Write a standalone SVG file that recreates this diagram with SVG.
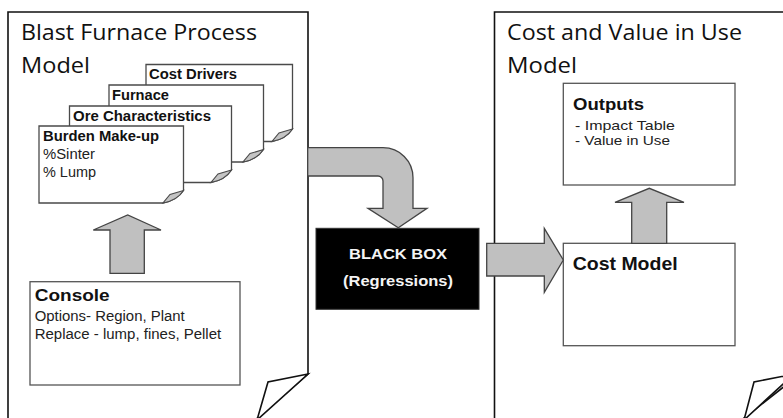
<svg xmlns="http://www.w3.org/2000/svg" width="783" height="418" viewBox="0 0 783 418">
  <style>
    .sheet { fill: #ffffff; stroke: #111111; stroke-width: 1.6; stroke-linejoin: miter; }
    .flap { fill: #ffffff; stroke: #111111; stroke-width: 1.6; stroke-linejoin: miter; }
    .card { fill: #ffffff; stroke: #4a4a4a; stroke-width: 1.3; }
    .curl { fill: #c4c4c4; stroke: #4a4a4a; stroke-width: 1.1; }
    .box { fill: #ffffff; stroke: #555555; stroke-width: 1.3; }
    .arrow { fill: #c0c0c0; stroke: #444444; stroke-width: 1.3; stroke-linejoin: miter; }
    .title { font-family: "Open Sans", "Liberation Sans", sans-serif; font-size: 21px; fill: #111111; }
    .bold { font-family: "Liberation Sans", Arial, sans-serif; font-weight: bold; fill: #111111; }
    .reg { font-family: "Liberation Sans", Arial, sans-serif; fill: #222222; }
    .white { font-family: "Liberation Sans", Arial, sans-serif; font-weight: bold; fill: #f4f4f4; font-size: 15px; }
  </style>

  <!-- left document: process model -->
  <g id="process-model">
    <path class="sheet" d="M8,424 V12 H308 V374 L253,422"/>
    <path class="flap" d="M308,374 L268,382 L257,420 Z"/>
    <text class="title" x="21" y="40" textLength="236" lengthAdjust="spacingAndGlyphs">Blast Furnace Process</text>
    <text class="title" x="21" y="73" textLength="69" lengthAdjust="spacingAndGlyphs">Model</text>
  </g>

  <!-- right document: cost and value model -->
  <g id="value-model">
    <path class="sheet" d="M494.5,424 V12 H800 V374 L739,422"/>
    <path class="flap" d="M794,374 L754,382 L744,420 Z"/>
    <text class="title" x="507" y="40" textLength="235" lengthAdjust="spacingAndGlyphs">Cost and Value in Use</text>
    <text class="title" x="507" y="73" textLength="70" lengthAdjust="spacingAndGlyphs">Model</text>
  </g>

  <!-- stacked input sheets, back to front -->
  <g id="cost-drivers">
    <path class="card" d="M146,64.5 H292.5 V129 Q286,139 272,141.5 H146 Z"/>
    <path class="curl" d="M292.5,129 L279,133 L272,141.5 Q286,139 292.5,129 Z"/>
    <text class="bold" x="149" y="78.5" font-size="14.5" textLength="88" lengthAdjust="spacingAndGlyphs">Cost Drivers</text>
  </g>
  <g id="furnace">
    <path class="card" d="M109,85 H263.5 V149.5 Q257,159.5 243,162 H109 Z"/>
    <path class="curl" d="M263.5,149.5 L250,153.5 L243,162 Q257,159.5 263.5,149.5 Z"/>
    <text class="bold" x="112" y="99.5" font-size="14.5" textLength="57" lengthAdjust="spacingAndGlyphs">Furnace</text>
  </g>
  <g id="ore-characteristics">
    <path class="card" d="M69.5,106 H231.5 V170 Q225,180 211,182.5 H69.5 Z"/>
    <path class="curl" d="M231.5,170 L218,174 L211,182.5 Q225,180 231.5,170 Z"/>
    <text class="bold" x="73" y="120.5" font-size="14.5" textLength="138" lengthAdjust="spacingAndGlyphs">Ore Characteristics</text>
  </g>
  <g id="burden-make-up">
    <path class="card" d="M39,126 H183.5 V190.5 Q177,200.5 163,203 H39 Z"/>
    <path class="curl" d="M183.5,190.5 L170,194.5 L163,203 Q177,200.5 183.5,190.5 Z"/>
    <text class="bold" x="43" y="140.5" font-size="14.5" textLength="116" lengthAdjust="spacingAndGlyphs">Burden Make-up</text>
    <text class="reg" x="43" y="158.5" font-size="14" textLength="52" lengthAdjust="spacingAndGlyphs">%Sinter</text>
    <text class="reg" x="43" y="177" font-size="14" textLength="53" lengthAdjust="spacingAndGlyphs">% Lump</text>
  </g>

  <!-- console -->
  <g id="console">
    <rect class="box" x="30" y="281.7" width="210" height="103.3"/>
    <text class="bold" x="34.7" y="301" font-size="17" textLength="75" lengthAdjust="spacingAndGlyphs">Console</text>
    <text class="reg" x="34.7" y="320.5" font-size="14" textLength="150" lengthAdjust="spacingAndGlyphs">Options- Region, Plant</text>
    <text class="reg" x="34.7" y="338.5" font-size="14" textLength="186.5" lengthAdjust="spacingAndGlyphs">Replace - lump, fines, Pellet</text>
  </g>

  <!-- black box -->
  <g id="black-box">
    <rect x="316" y="228.3" width="163" height="81" fill="#000000" stroke="#333333" stroke-width="1"/>
    <text class="white" x="398" y="258.5" text-anchor="middle" textLength="98" lengthAdjust="spacingAndGlyphs">BLACK BOX</text>
    <text class="white" x="398" y="286" text-anchor="middle" textLength="110" lengthAdjust="spacingAndGlyphs">(Regressions)</text>
  </g>

  <!-- outputs -->
  <g id="outputs">
    <rect class="box" x="563.3" y="83.3" width="171.7" height="101.7"/>
    <text class="bold" x="573" y="110" font-size="17" textLength="71" lengthAdjust="spacingAndGlyphs">Outputs</text>
    <text class="reg" x="575" y="129.5" font-size="13.5" textLength="100" lengthAdjust="spacingAndGlyphs">- Impact Table</text>
    <text class="reg" x="575" y="145" font-size="13.5" textLength="95" lengthAdjust="spacingAndGlyphs">- Value in Use</text>
  </g>

  <!-- cost model -->
  <g id="cost-model">
    <rect class="box" x="563.3" y="243.3" width="171.7" height="102.4"/>
    <text class="bold" x="572.7" y="269.5" font-size="17.5" textLength="105" lengthAdjust="spacingAndGlyphs">Cost Model</text>
  </g>

  <!-- block arrows -->
  <g id="connectors">
    <path class="arrow" d="M110,273.3 V230 H93.3 L127.7,215 L161,230 H144.3 V273.3 Z"/>
    <path class="arrow" d="M307.7,147.7 H383 A30,30 0 0 1 413,177.7 V208.3 H427 L398.3,227.7 L368,208.3 H383 V181 A5,5 0 0 0 378,176 H307.7 Z"/>
    <path class="arrow" d="M486.7,243.3 H544.3 V228.3 L563.3,260 L544.3,292.3 V276 H486.7 Z"/>
    <path class="arrow" d="M631.7,243.3 V202.3 H615 L649.3,188.3 L684,202.3 H666.7 V243.3 Z"/>
  </g>
</svg>
